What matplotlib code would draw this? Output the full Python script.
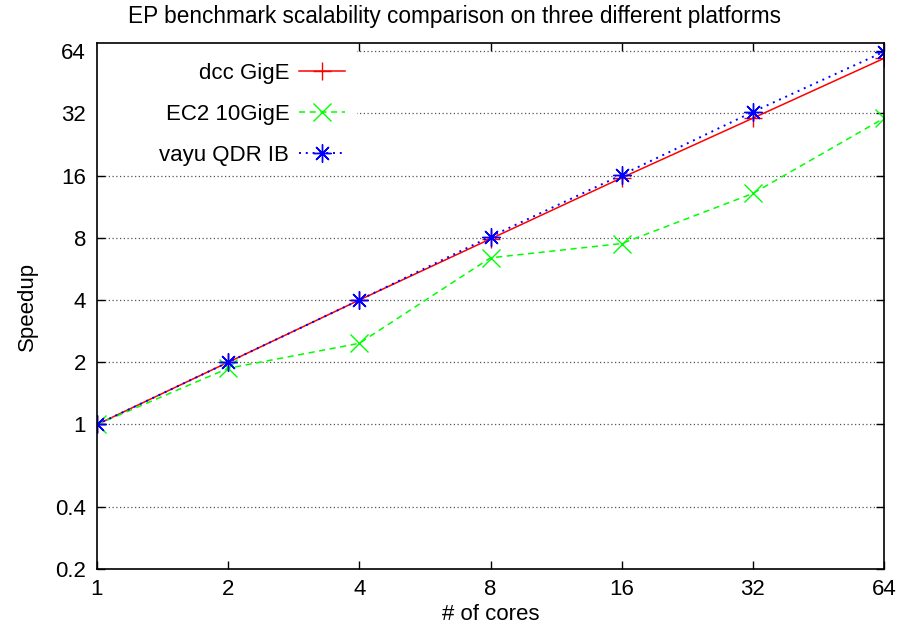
import matplotlib
matplotlib.use("Agg")
import matplotlib.pyplot as plt
from matplotlib.ticker import FixedLocator, NullLocator
from matplotlib.patches import Rectangle

plt.rcParams['font.family'] = ['Liberation Sans', 'DejaVu Sans']

cores = [1, 2, 4, 8, 16, 32, 64]
dcc_gige = [1, 2, 4, 7.9, 15.6, 30.3, 59]
ec2_10gige = [1, 1.87, 2.47, 6.4, 7.5, 13.1, 30.3]
vayu_qdr_ib = [1, 2, 4, 8.1, 16.1, 32.5, 63.5]

x_ticks = [1, 2, 4, 8, 16, 32, 64]
x_labels = ['1', '2', '4', '8', '16', '32', '64']
y_ticks = [0.2, 0.4, 1, 2, 4, 8, 16, 32, 64]
y_labels = ['0.2', '0.4', '1', '2', '4', '8', '16', '32', '64']

FS = 16

fig = plt.figure(figsize=(9, 6.27), dpi=100)
ax = fig.add_axes([97/900, 1-569/627, (884-97)/900, (569-43)/627])

asterisk = (8, 2, 0)
ax.plot(cores, dcc_gige, color='#ff0000', ls='-', lw=1.1, marker='+', ms=12.5, mew=1.0, label='dcc GigE', zorder=3)
ax.plot(cores, ec2_10gige, color='#00ff00', ls=(0, (4, 3)), lw=1.1, marker='x', ms=12.5, mew=1.0, label='EC2 10GigE', zorder=3)
ax.plot(cores, vayu_qdr_ib, color='#0000ff', ls=(0, (1, 2.5)), lw=1.4, marker=asterisk, ms=13, mew=1.0, label='vayu QDR IB', zorder=3)

ax.set_xscale('log')
ax.set_yscale('log')
ax.set_xlim(1, 64)
ax.set_ylim(0.2, 70)
ax.xaxis.set_major_locator(FixedLocator(x_ticks))
ax.xaxis.set_minor_locator(NullLocator())
ax.set_xticklabels(x_labels)
ax.yaxis.set_major_locator(FixedLocator(y_ticks))
ax.yaxis.set_minor_locator(NullLocator())
ax.set_yticklabels(y_labels)
ax.tick_params(axis='both', which='major', direction='in', length=6, width=1,
               top=True, right=True, labelsize=FS, colors='black')
ax.tick_params(axis='y', pad=8)
ax.tick_params(axis='x', pad=7)

ax.grid(axis='y', color='#555555', ls=(0, (1, 2)), lw=0.9)
ax.set_axisbelow(True)
for s in ax.spines.values():
    s.set_linewidth(1.2)
    s.set_zorder(4)

# opaque key background (blanks the grid behind the key)
ax.add_patch(Rectangle((0, 0.758), 0.33, 0.242, transform=ax.transAxes,
                       facecolor='white', edgecolor='none', zorder=1.5))

ax.set_xlabel('# of cores', fontsize=FS, labelpad=3)
ax.set_ylabel('Speedup', fontsize=FS, labelpad=12)
fig.text(454/900, 1-17/627, 'EP benchmark scalability comparison on three different platforms',
         fontsize=16.3, ha='center', va='center')

leg = ax.legend(loc='upper right', frameon=False, fontsize=FS, markerfirst=False,
                handlelength=2.05, labelspacing=0.9, borderaxespad=0.0, borderpad=0.0,
                handletextpad=0.45, bbox_to_anchor=(0.315, 0.962))
for t in leg.get_texts():
    t.set_ha('right')
leg._legend_box.align = 'right'

fig.savefig('out.png', dpi=100)
